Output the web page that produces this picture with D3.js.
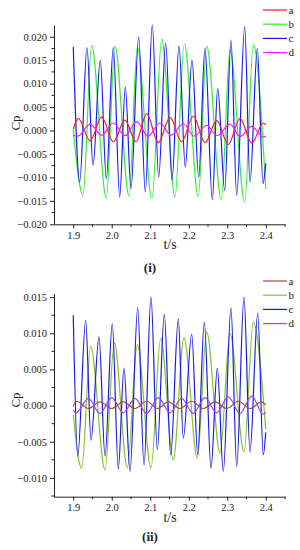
<!DOCTYPE html>
<html>
<head>
<meta charset="utf-8">
<script src="https://cdn.jsdelivr.net/npm/d3@7.9.0/dist/d3.min.js"></script>
<style>
  body { margin: 0; background: #fff; }
  svg text { font-family: "Liberation Serif", "DejaVu Serif", serif; fill: #222; }
</style>
</head>
<body>
<svg id="chart" width="300" height="550"></svg>
<script>
// series names and colours for both panels
const seriesNames = ['a', 'b', 'c', 'd'];
const colors1 = ['#ff1a1a', '#33ee33', '#1a1aff', '#ff1aff'];
const colors2 = ['#a0522d', '#86c232', '#1a1ae6', '#a040ff'];

// tick labels
const xTicks = [1.9, 2.0, 2.1, 2.2, 2.3, 2.4];
const yTicks1 = [-0.020, -0.015, -0.010, -0.005, 0.000, 0.005, 0.010, 0.015, 0.020];
const yTicks2 = [-0.010, -0.005, 0.000, 0.005, 0.010, 0.015];

// panel (i) data, [t, Cp]
const a1 = [[1.900, 0.0003], [1.9131, 0.0026], [1.9435, -0.0022], [1.9739, 0.0029], [2.0040, -0.0024],
  [2.0344, 0.0022], [2.0630, -0.0024], [2.0908, 0.0036], [2.1209, -0.0026], [2.1513, 0.0028],
  [2.1817, -0.0024], [2.2118, 0.0031], [2.2422, -0.0026], [2.2726, 0.0021], [2.3027, -0.0030],
  [2.3331, 0.0026], [2.3635, -0.0027], [2.3936, 0.0016], [2.400, 0.0012]];
const b1 = [[1.900, 0.0002], [1.9253, -0.0138], [1.9479, 0.0182], [1.9858, -0.0145], [2.0084, 0.0180],
  [2.0448, -0.0140], [2.0664, 0.0178], [2.1045, -0.0145], [2.1297, 0.0195], [2.1643, -0.0142],
  [2.1884, 0.0185], [2.2248, -0.0141], [2.2466, 0.0180], [2.2845, -0.0147], [2.3071, 0.0172],
  [2.3453, -0.0153], [2.3677, 0.0184], [2.400, -0.0125]];
const c1 = [[1.900, 0.0178], [1.9168, -0.0110], [1.9357, 0.0177], [1.9513, -0.0074], [1.9703, 0.0150],
  [1.9858, -0.0103], [2.0040, 0.0177], [2.0206, -0.0142], [2.0352, 0.0093], [2.0500, -0.0124],
  [2.0700, 0.0199], [2.0871, -0.0131], [2.1053, 0.0225], [2.1219, -0.0099], [2.1401, 0.0186],
  [2.1565, -0.0106], [2.1747, 0.0180], [2.1910, -0.0078], [2.2084, 0.0150], [2.2258, -0.0099],
  [2.2422, 0.0175], [2.2612, -0.0147], [2.2752, 0.0090], [2.2934, -0.0128], [2.3097, 0.0193],
  [2.3245, -0.0138], [2.3453, 0.0221], [2.3591, -0.0110], [2.3781, 0.0175], [2.3929, -0.0113],
  [2.400, -0.0070]];
const d1 = [[1.900, -0.0010], [1.9123, -0.0012], [1.9435, 0.00135], [1.9739, -0.0010], [2.0040, 0.0016],
  [2.0344, -0.0011], [2.0648, 0.0019], [2.0942, -0.0012], [2.1253, 0.0016], [2.1539, -0.0010],
  [2.1858, 0.0015], [2.2136, -0.0012], [2.2466, 0.0011], [2.2734, -0.0011], [2.3071, 0.00135],
  [2.3331, -0.0013], [2.3635, 0.0009], [2.3929, -0.0014], [2.400, -0.0012]];

// panel (ii) data, [t, Cp]
const a2 = [[1.900, -0.0001], [1.9090, 0.0006], [1.9391, -0.0004], [1.9695, 0.0005], [1.9999, -0.0004],
  [2.0300, 0.0005], [2.0604, -0.0004], [2.0908, 0.0006], [2.1188, -0.0004], [2.1469, 0.0005],
  [2.1773, -0.0004], [2.2077, 0.0006], [2.2378, -0.0004], [2.2682, 0.0005], [2.2986, -0.0004],
  [2.3287, 0.0006], [2.3591, -0.0004], [2.3895, 0.0005], [2.400, 0.0001]];
const b2 = [[1.900, -0.0013], [1.9219, -0.0087], [1.9453, 0.0082], [1.9825, -0.0089], [2.0066, 0.0087],
  [2.0404, -0.0086], [2.0664, 0.0084], [2.1019, -0.0086], [2.1271, 0.0093], [2.1599, -0.0075],
  [2.1877, 0.0094], [2.2222, -0.0073], [2.2466, 0.0102], [2.2812, -0.0066], [2.3071, 0.0100],
  [2.3435, -0.0064], [2.3677, 0.0115], [2.400, -0.0033]];
const c2 = [[1.900, 0.0125], [1.9116, -0.0070], [1.9323, 0.0118], [1.9461, -0.0048], [1.9669, 0.0095],
  [1.9825, -0.0070], [2.0014, 0.0113], [2.0170, -0.0088], [2.0318, 0.0052], [2.0474, -0.0091],
  [2.0674, 0.0135], [2.0838, -0.0082], [2.1019, 0.0150], [2.1183, -0.0061], [2.1365, 0.0126],
  [2.1531, -0.0068], [2.1729, 0.0120], [2.1858, -0.0045], [2.2077, 0.0099], [2.2232, -0.0068],
  [2.2404, 0.0115], [2.2578, -0.0087], [2.2742, 0.0052], [2.2897, -0.0091], [2.3097, 0.0135],
  [2.3245, -0.0084], [2.3435, 0.0150], [2.3591, -0.0064], [2.3791, 0.0128], [2.3936, -0.0068],
  [2.400, -0.0037]];
const d2 = [[1.900, -0.0006], [1.9071, -0.0010], [1.9391, 0.0010], [1.9695, -0.0011], [1.9999, 0.0011],
  [2.0300, -0.0010], [2.0604, 0.0010], [2.0908, -0.0011], [2.1209, 0.0011], [2.1513, -0.0010],
  [2.1817, 0.0010], [2.2118, -0.0011], [2.2422, 0.0011], [2.2726, -0.0010], [2.3027, 0.0012],
  [2.3331, -0.0011], [2.3635, 0.0013], [2.3936, -0.0012], [2.400, -0.0009]];

const svg = d3.select('#chart');

function drawPanel(cfg) {
  const g = svg.append('g');
  const x = d3.scaleLinear().domain([1.85, 2.45]).range([54, 285]);
  const y = d3.scaleLinear().domain(cfg.yDomain).range([cfg.bottom, cfg.top]);

  // x axis + minor ticks
  const gx = g.append('g').attr('transform', `translate(0,${cfg.bottom})`)
    .call(d3.axisBottom(x).tickValues(xTicks).tickFormat(d3.format('.1f'))
      .tickSize(4).tickPadding(3).tickSizeOuter(0));
  gx.selectAll('line.minor').data([1.95, 2.05, 2.15, 2.25, 2.35, 2.45]).join('line')
    .attr('class', 'minor').attr('x1', d => x(d)).attr('x2', d => x(d))
    .attr('y1', 0).attr('y2', 2.5).attr('stroke', '#222');

  // y axis + minor ticks
  const gy = g.append('g').attr('transform', 'translate(54,0)')
    .call(d3.axisLeft(y).tickValues(cfg.yTicks).tickFormat(d3.format('.3f'))
      .tickSize(4).tickPadding(3).tickSizeOuter(0));
  const minorY = d3.range(cfg.yTicks[0] - 0.0025, cfg.yDomain[1], 0.005)
    .filter(v => v >= cfg.yDomain[0] && v <= cfg.yDomain[1]);
  gy.selectAll('line.minor').data(minorY).join('line')
    .attr('class', 'minor').attr('x1', 0).attr('x2', -2.5)
    .attr('y1', d => y(d)).attr('y2', d => y(d)).attr('stroke', '#222');

  [gx, gy].forEach(a => {
    a.selectAll('.domain').attr('stroke', '#222');
    a.selectAll('.tick line').attr('stroke', '#222');
    a.selectAll('text').attr('font-size', 10.5).attr('fill', '#222')
      .style('font-family', '"Liberation Serif", serif');
  });

  // series lines
  const line = d3.line().x(d => x(d[0])).y(d => y(d[1])).curve(d3.curveMonotoneX);
  const order = [1, 2, 0, 3];
  order.forEach(i => {
    g.append('path').datum(cfg.data[i])
      .attr('fill', 'none').attr('stroke', cfg.colors[i])
      .attr('stroke-width', 1.2).attr('d', line);
  });

  // legend
  seriesNames.forEach((name, i) => {
    const ly = cfg.legendTop + i * 14.2;
    g.append('line').attr('x1', 263).attr('x2', 287).attr('y1', ly).attr('y2', ly)
      .attr('stroke', cfg.colors[i]).attr('stroke-width', 1.2);
    g.append('text').attr('x', 288.5).attr('y', ly + 3.5).attr('font-size', 11).text(name);
  });

  // labels
  g.append('text')
    .attr('transform', `translate(20,${cfg.cpY}) rotate(-90)`)
    .attr('text-anchor', 'middle').attr('font-size', 13).text('Cp');
  g.append('text').attr('x', 170).attr('y', cfg.bottom + 25)
    .attr('text-anchor', 'middle').attr('font-size', 14).text('t/s');
  g.append('text').attr('x', 150).attr('y', cfg.titleY)
    .attr('text-anchor', 'middle').attr('font-size', 13).attr('font-weight', 'bold').text(cfg.title);
}

drawPanel({
  yDomain: [-0.020, 0.0225], top: 25, bottom: 224.3, yTicks: yTicks1,
  data: [a1, b1, c1, d1], colors: colors1, legendTop: 10, cpY: 123,
  titleY: 272, title: '(i)'
});

drawPanel({
  yDomain: [-0.0126, 0.0155], top: 293.5, bottom: 496.7, yTicks: yTicks2,
  data: [a2, b2, c2, d2], colors: colors2, legendTop: 281, cpY: 400,
  titleY: 541, title: '(ii)'
});
</script>
</body>
</html>
